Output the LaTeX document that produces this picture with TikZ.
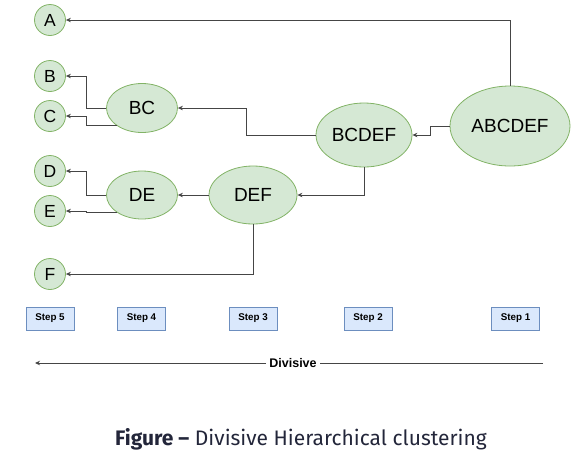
\documentclass[tikz,border=0pt]{standalone}
\usepackage{fontspec}
\setmainfont{Liberation Sans}
\newfontfamily\capfont{Fira Sans}
\usetikzlibrary{shapes.geometric,arrows.meta}
\definecolor{gfill}{HTML}{D5E8D4}
\definecolor{gline}{HTML}{82B366}
\definecolor{bfill}{HTML}{DAE8FC}
\definecolor{bline}{HTML}{6C8EBF}
\definecolor{edgec}{HTML}{454545}
\definecolor{capc}{HTML}{23263A}
\begin{document}
\begin{tikzpicture}[x=1pt,y=-1pt,
  leaf/.style={circle,draw=gline,fill=gfill,line width=0.8pt,minimum size=31pt,inner sep=0pt,font=\fontsize{17.5}{17.5}\selectfont},
  clus/.style={ellipse,draw=gline,fill=gfill,line width=0.8pt,inner sep=0pt,font=\fontsize{19}{19}\selectfont},
  stepbox/.style={rectangle,draw=bline,fill=bfill,line width=0.8pt,minimum width=48pt,minimum height=23pt,inner sep=0pt,font=\bfseries\fontsize{9.8}{9.8}\selectfont},
  arr/.style={draw=edgec,line width=1pt,-{Stealth[length=5pt,width=4.5pt]}}]
\path[use as bounding box] (0,0) rectangle (575,456);
% leaves
\node[leaf] (A) at (50,20) {A};
\node[leaf] (B) at (50,76) {B};
\node[leaf] (C) at (50,116) {C};
\node[leaf] (D) at (50,171) {D};
\node[leaf] (E) at (50,211) {E};
\node[leaf] (F) at (50,274) {F};
% clusters
\node[clus,minimum width=71pt,minimum height=49pt] (BC) at (142,108) {BC};
\node[clus,minimum width=71pt,minimum height=48pt] (DE) at (142,195) {DE};
\node[clus,minimum width=88pt,minimum height=58pt] (DEF) at (253,195) {DEF};
\node[clus,minimum width=96pt,minimum height=64pt] (BCDEF) at (364,135) {BCDEF};
\node[clus,minimum width=120pt,minimum height=80pt] (ABCDEF) at (510,126) {ABCDEF};
\coordinate (xj) at (86,0);
% connectors
\draw[arr] (ABCDEF.north) |- (A);
\draw[arr] (ABCDEF.west) -- ++(-19,0) |- (BCDEF);
\draw[arr] (BCDEF.west) -- ++(-69,0) |- (BC);
\draw[arr] (BCDEF.south) |- (DEF);
\draw[arr] (DEF) -- (DE);
\draw[arr] (DEF.south) |- (F);
\draw[arr] (BC.west) -- (BC.west -| xj) |- (B);
\draw[arr] (BC.south west) -- (BC.south west -| xj) |- (C);
\draw[arr] (DE.west) -- (DE.west -| xj) |- (D);
\draw[arr] (DE.south west) -- (DE.south west -| xj) |- (E);
% steps
\node[stepbox] (s5) at (50,318.5) {Step 5};
\node[stepbox] (s4) at (141.5,318.5) {Step 4};
\node[stepbox] (s3) at (253,318.5) {Step 3};
\node[stepbox] (s2) at (368,318.5) {Step 2};
\node[stepbox] (s1) at (515.5,318.5) {Step 1};
% divisive
\node[font=\bfseries\fontsize{12.5}{12.5}\selectfont,inner sep=3pt] (div) at (293,363) {Divisive};
\coordinate (dl) at (35,363);
\coordinate (dr) at (543,363);
\draw[draw=edgec,line width=0.9pt] (dr) -- (div.east);
\draw[arr,line width=0.9pt] (div.west) -- (dl);
% caption
\node[text=capc,font=\capfont\fontsize{21}{21}\selectfont,anchor=base] (cap) at (301,445) {\textbf{Figure –} Divisive Hierarchical clustering};
\end{tikzpicture}
\end{document}
